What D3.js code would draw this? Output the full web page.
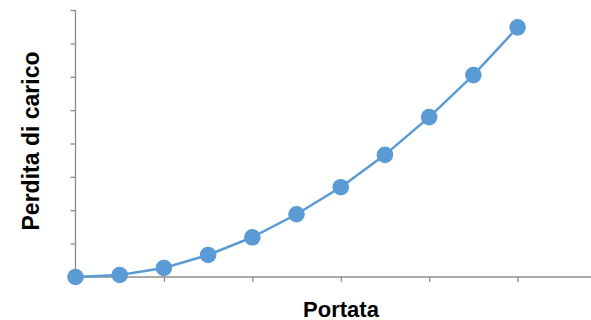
<!DOCTYPE html>
<html><head><meta charset="utf-8">
<script src="https://cdn.jsdelivr.net/npm/d3@7"></script>
<style>html,body{margin:0;padding:0;background:#fff;}svg{display:block;}</style>
</head><body>
<svg id="c" width="591" height="320"></svg>
<script>
const xValues = [0, 0.5, 1, 1.5, 2, 2.5, 3, 3.5, 4, 4.5, 5];
const yValues = [0, 0.06, 0.27, 0.66, 1.19, 1.88, 2.69, 3.66, 4.79, 6.05, 7.48];
const xTicks = [0, 1, 2, 3, 4, 5, 6];
const yTicks = [0, 1, 2, 3, 4, 5, 6, 7, 8];
const xTitle = "Portata";
const yTitle = "Perdita di carico";

const svg = d3.select("#c");
const x = d3.scaleLinear().domain([0, 6]).range([75.5, 606]);
const y = d3.scaleLinear().domain([0, 8]).range([277, 10]);
const axisColor = "#8c8c8c";

const xAxis = svg.append("g").attr("transform", "translate(0,277)")
  .call(d3.axisBottom(x).tickValues(xTicks.slice(1)).tickSize(5).tickFormat(""));
const yAxis = svg.append("g").attr("transform", "translate(75.5,0)")
  .call(d3.axisLeft(y).tickValues(yTicks).tickSize(5).tickFormat(""));
[xAxis, yAxis].forEach(g => {
  g.select(".domain").attr("stroke", axisColor).attr("stroke-width", 1.3);
  g.selectAll(".tick line").attr("stroke", axisColor).attr("stroke-width", 1.3);
});
yAxis.select(".domain").attr("d", `M0,${y(8)}V${y(0)}`);
xAxis.select(".domain").attr("d", `M${x(0)},0H${x(6)}`);

const data = xValues.map((v, i) => ({x: v, y: yValues[i]}));
svg.append("path").datum(data)
  .attr("fill", "none").attr("stroke", "#5b9bd5").attr("stroke-width", 2.5)
  .attr("d", d3.line().x(d => x(d.x)).y(d => y(d.y)));
svg.selectAll("circle.pt").data(data).join("circle").attr("class", "pt")
  .attr("cx", d => x(d.x)).attr("cy", d => y(d.y)).attr("r", 8.3)
  .attr("fill", "#5b9bd5");

svg.append("text").attr("x", 341).attr("y", 316.5).attr("text-anchor", "middle")
  .attr("font-family", "Liberation Sans, Arial, sans-serif").attr("font-weight", "bold")
  .attr("font-size", 22).attr("fill", "#000").text(xTitle);
svg.append("text").attr("transform", "translate(39,141) rotate(-90)").attr("text-anchor", "middle")
  .attr("font-family", "Liberation Sans, Arial, sans-serif").attr("font-weight", "bold")
  .attr("font-size", 23).attr("fill", "#000").text(yTitle);
</script>
</body></html>
